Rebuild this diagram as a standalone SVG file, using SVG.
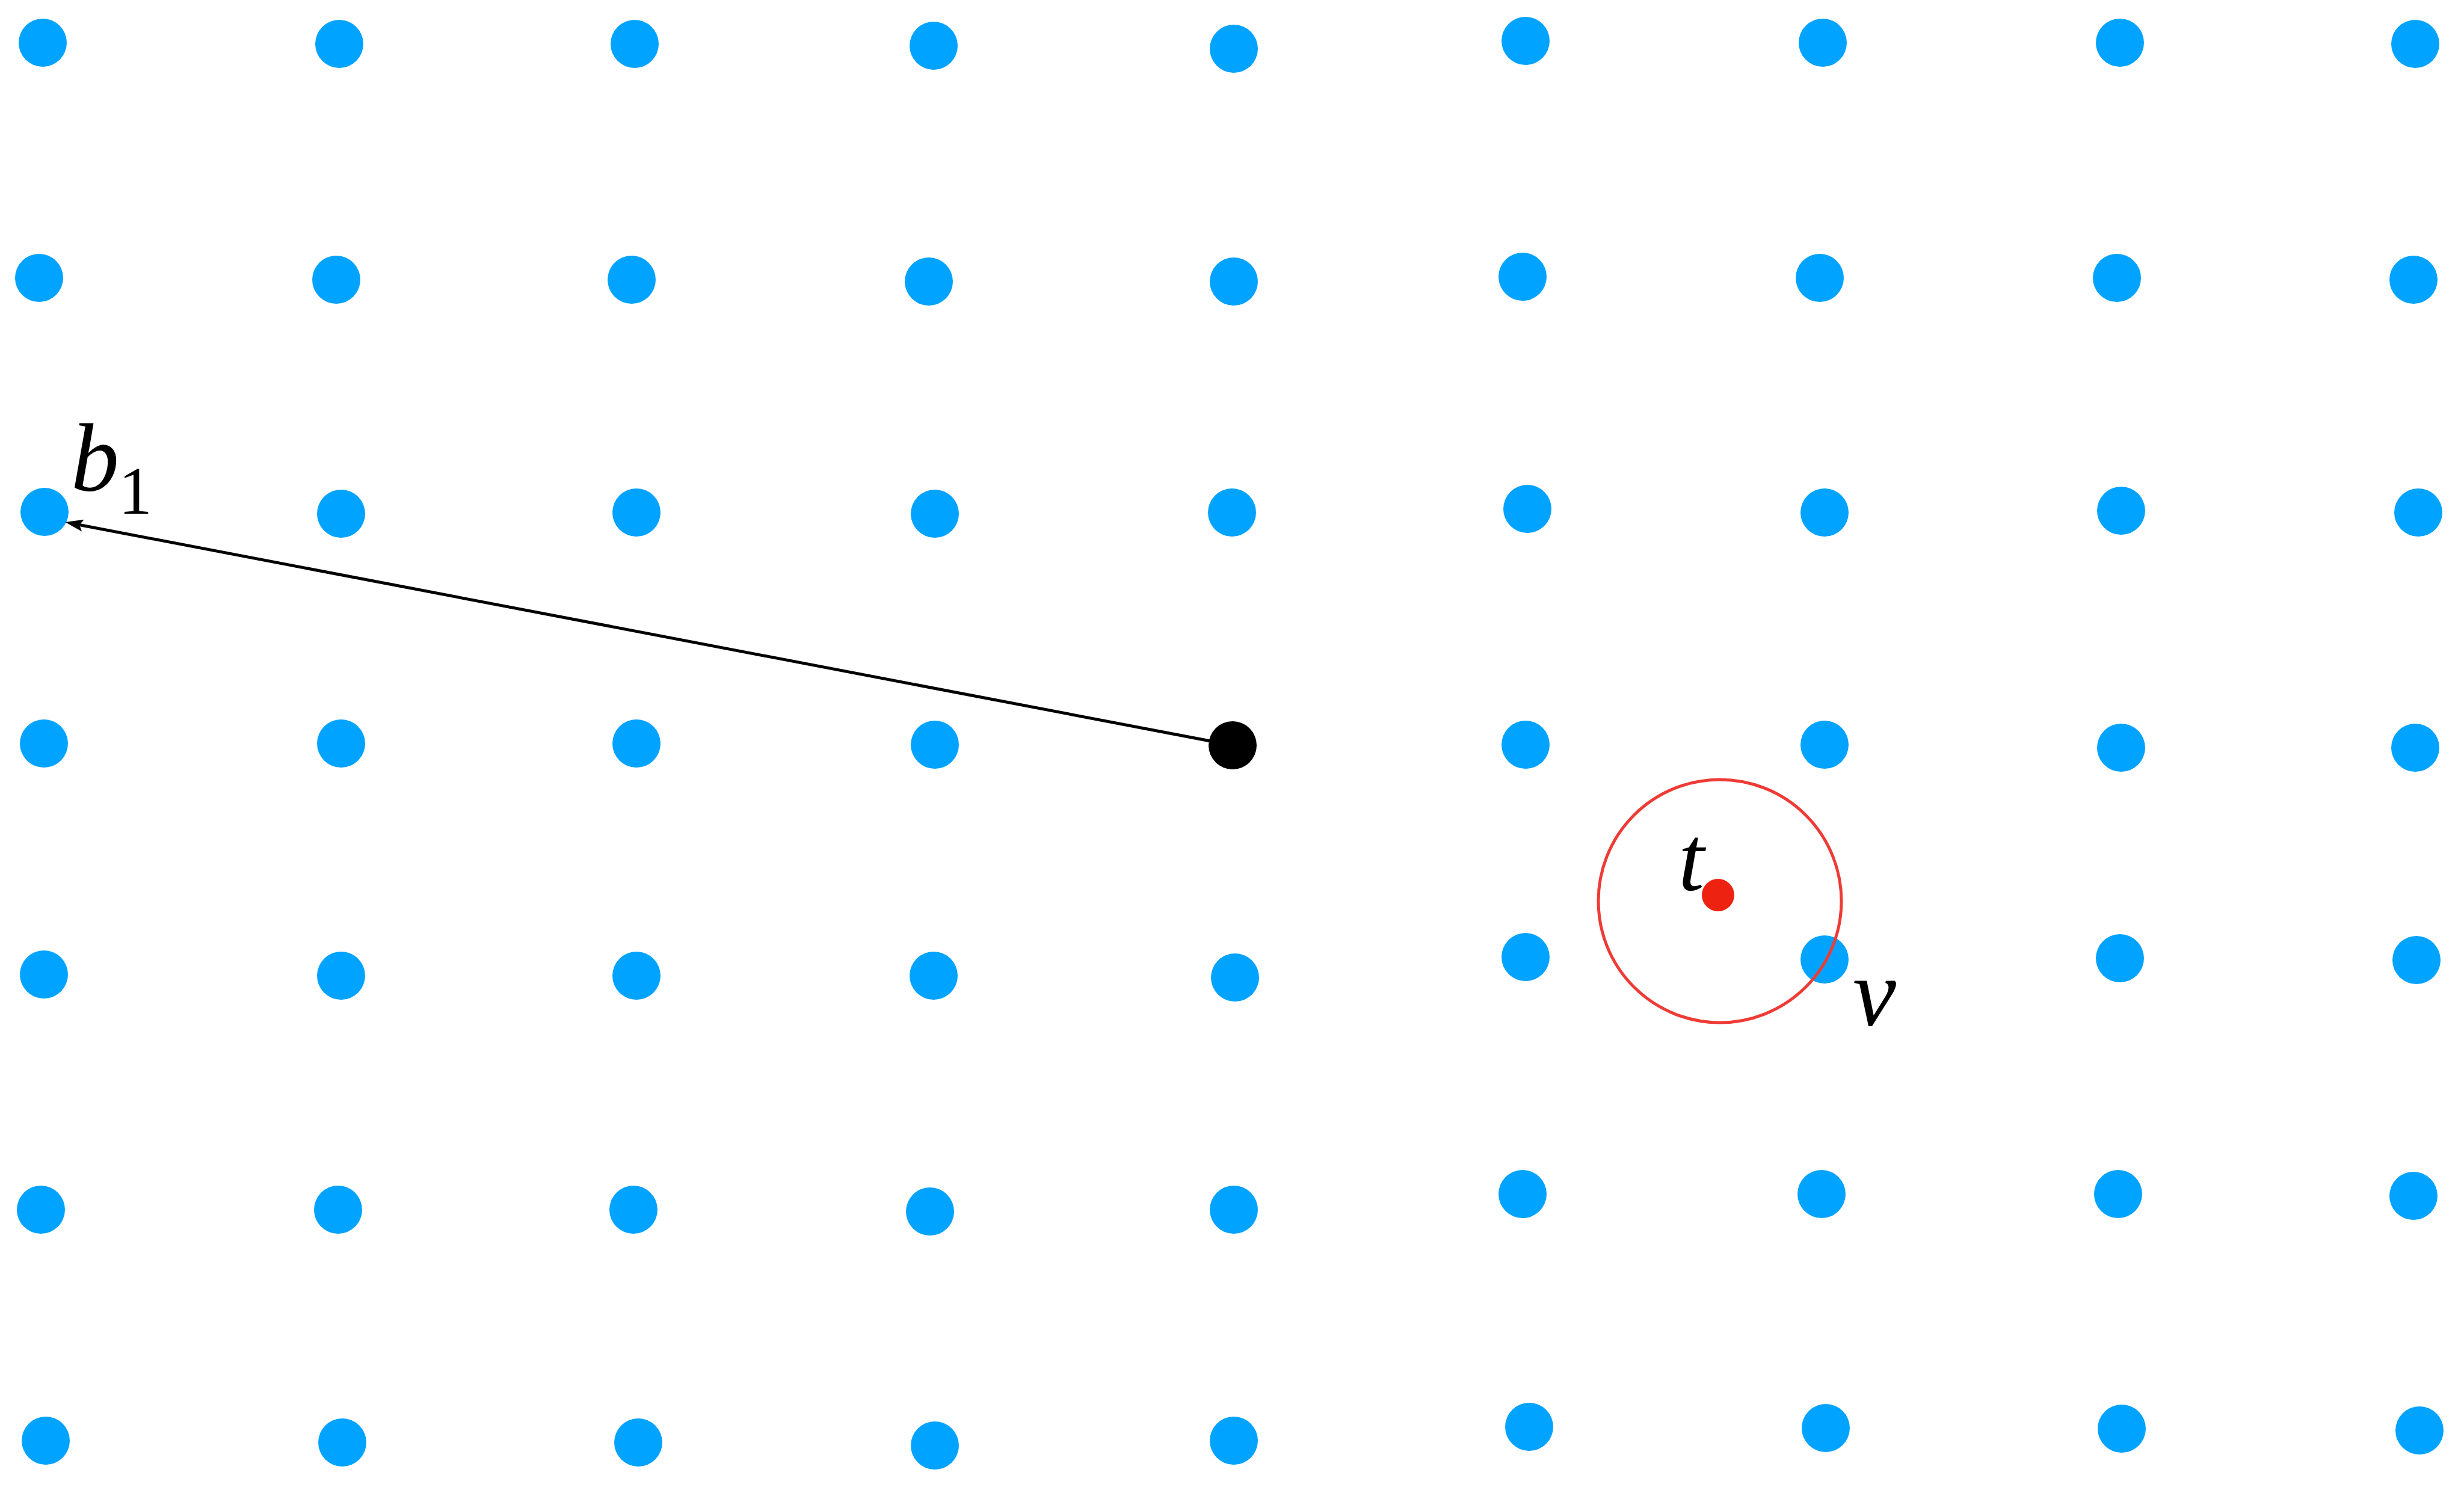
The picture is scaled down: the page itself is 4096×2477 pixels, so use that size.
<svg xmlns="http://www.w3.org/2000/svg" width="4096" height="2477" viewBox="0 0 4096 2477">
<style>
.pt{fill:#00A3FF}
.lbl{font-family:"Liberation Serif","Times New Roman",serif;font-style:italic;fill:#000}
.sub{font-family:"Liberation Serif","Times New Roman",serif;font-style:normal;fill:#000}
.edge{stroke:#000;stroke-width:5;fill:none}
</style>
<defs>
<marker id="arr" markerUnits="userSpaceOnUse" viewBox="-10 -14 40 28" markerWidth="40" markerHeight="28" refX="0" refY="0" orient="auto">
<path d="M24,0 L-6,-10 L0,0 L-6,10 Z" fill="#000"/>
</marker>
</defs>
<rect width="4096" height="2477" fill="#fff"/>
<g id="lattice">
<g id="p1-1"><circle class="pt" cx="71" cy="71" r="40"/></g>
<g id="p1-2"><circle class="pt" cx="564" cy="73" r="40"/></g>
<g id="p1-3"><circle class="pt" cx="1055" cy="73" r="40"/></g>
<g id="p1-4"><circle class="pt" cx="1552" cy="76" r="40"/></g>
<g id="p1-5"><circle class="pt" cx="2051" cy="81" r="40"/></g>
<g id="p1-6"><circle class="pt" cx="2536" cy="68" r="40"/></g>
<g id="p1-7"><circle class="pt" cx="3030" cy="71" r="40"/></g>
<g id="p1-8"><circle class="pt" cx="3524" cy="71" r="40"/></g>
<g id="p1-9"><circle class="pt" cx="4015" cy="73" r="40"/></g>
<g id="p2-1"><circle class="pt" cx="65" cy="462" r="40"/></g>
<g id="p2-2"><circle class="pt" cx="559" cy="465" r="40"/></g>
<g id="p2-3"><circle class="pt" cx="1050" cy="465" r="40"/></g>
<g id="p2-4"><circle class="pt" cx="1544" cy="468" r="40"/></g>
<g id="p2-5"><circle class="pt" cx="2051" cy="468" r="40"/></g>
<g id="p2-6"><circle class="pt" cx="2531" cy="460" r="40"/></g>
<g id="p2-7"><circle class="pt" cx="3025" cy="462" r="40"/></g>
<g id="p2-8"><circle class="pt" cx="3519" cy="462" r="40"/></g>
<g id="p2-9"><circle class="pt" cx="4012" cy="465" r="40"/></g>
<g id="p3-1"><circle class="pt" cx="74" cy="851" r="40"/></g>
<g id="p3-2"><circle class="pt" cx="567" cy="854" r="40"/></g>
<g id="p3-3"><circle class="pt" cx="1058" cy="852" r="40"/></g>
<g id="p3-4"><circle class="pt" cx="1554" cy="854" r="40"/></g>
<g id="p3-5"><circle class="pt" cx="2048" cy="852" r="40"/></g>
<g id="p3-6"><circle class="pt" cx="2539" cy="846" r="40"/></g>
<g id="p3-7"><circle class="pt" cx="3033" cy="852" r="40"/></g>
<g id="p3-8"><circle class="pt" cx="3526" cy="849" r="40"/></g>
<g id="p3-9"><circle class="pt" cx="4020" cy="852" r="40"/></g>
<g id="p4-1"><circle class="pt" cx="73" cy="1236" r="40"/></g>
<g id="p4-2"><circle class="pt" cx="567" cy="1236" r="40"/></g>
<g id="p4-3"><circle class="pt" cx="1058" cy="1236" r="40"/></g>
<g id="p4-4"><circle class="pt" cx="1554" cy="1238" r="40"/></g>
<g id="p4-6"><circle class="pt" cx="2536" cy="1238" r="40"/></g>
<g id="p4-7"><circle class="pt" cx="3033" cy="1238" r="40"/></g>
<g id="p4-8"><circle class="pt" cx="3526" cy="1243" r="40"/></g>
<g id="p4-9"><circle class="pt" cx="4015" cy="1243" r="40"/></g>
<g id="p5-1"><circle class="pt" cx="73" cy="1620" r="40"/></g>
<g id="p5-2"><circle class="pt" cx="567" cy="1622" r="40"/></g>
<g id="p5-3"><circle class="pt" cx="1058" cy="1622" r="40"/></g>
<g id="p5-4"><circle class="pt" cx="1552" cy="1622" r="40"/></g>
<g id="p5-5"><circle class="pt" cx="2053" cy="1625" r="40"/></g>
<g id="p5-6"><circle class="pt" cx="2536" cy="1591" r="40"/></g>
<g id="p5-7"><circle class="pt" cx="3033" cy="1595" r="40"/></g>
<g id="p5-8"><circle class="pt" cx="3524" cy="1593" r="40"/></g>
<g id="p5-9"><circle class="pt" cx="4017" cy="1596" r="40"/></g>
<g id="p6-1"><circle class="pt" cx="68" cy="2011" r="40"/></g>
<g id="p6-2"><circle class="pt" cx="562" cy="2011" r="40"/></g>
<g id="p6-3"><circle class="pt" cx="1053" cy="2011" r="40"/></g>
<g id="p6-4"><circle class="pt" cx="1546" cy="2014" r="40"/></g>
<g id="p6-5"><circle class="pt" cx="2051" cy="2011" r="40"/></g>
<g id="p6-6"><circle class="pt" cx="2531" cy="1985" r="40"/></g>
<g id="p6-7"><circle class="pt" cx="3028" cy="1985" r="40"/></g>
<g id="p6-8"><circle class="pt" cx="3521" cy="1985" r="40"/></g>
<g id="p6-9"><circle class="pt" cx="4012" cy="1988" r="40"/></g>
<g id="p7-1"><circle class="pt" cx="76" cy="2395" r="40"/></g>
<g id="p7-2"><circle class="pt" cx="569" cy="2398" r="40"/></g>
<g id="p7-3"><circle class="pt" cx="1061" cy="2398" r="40"/></g>
<g id="p7-4"><circle class="pt" cx="1554" cy="2403" r="40"/></g>
<g id="p7-5"><circle class="pt" cx="2051" cy="2395" r="40"/></g>
<g id="p7-6"><circle class="pt" cx="2542" cy="2372" r="40"/></g>
<g id="p7-7"><circle class="pt" cx="3035" cy="2374" r="40"/></g>
<g id="p7-8"><circle class="pt" cx="3527" cy="2375" r="40"/></g>
<g id="p7-9"><circle class="pt" cx="4022" cy="2378" r="40"/></g>
</g>
<g id="target-region">
<circle cx="2859" cy="1498" r="202" fill="none" stroke="#EE3B36" stroke-width="5"/>
</g>
<g id="connectors">
<line class="edge" x1="2049" y1="1239" x2="132" y2="872.5" marker-end="url(#arr)"/>
</g>
<g id="origin"><circle cx="2049" cy="1239" r="40" fill="#000"/></g>
<g id="target"><circle cx="2856" cy="1488" r="27" fill="#EE2211"/></g>
<g id="labels">
<text class="lbl" x="118" y="815" font-size="160">b</text>
<text class="sub" x="197" y="854" font-size="112">1</text>
<text class="lbl" x="2790" y="1479" font-size="155">t</text>
<text class="lbl" x="3080" y="1704" font-size="162">v</text>
</g>
</svg>
